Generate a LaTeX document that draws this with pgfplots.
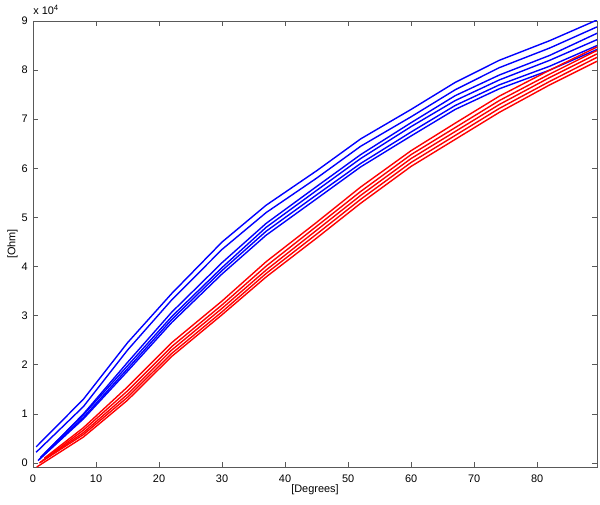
\documentclass[border=0pt]{standalone}
\usepackage{fontspec}
\setmainfont{Liberation Sans}
\usepackage{pgfplots}
\pgfplotsset{compat=1.18}
\definecolor{mblue}{rgb}{0,0,1}
\definecolor{mred}{rgb}{1,0,0}
\definecolor{frame}{gray}{0.35}
\begin{document}
\fontsize{8.2}{9.5}\selectfont
\begin{tikzpicture}
\path[use as bounding box] (0pt,0pt) rectangle (450pt,378pt);
\begin{axis}[
  at={(24.75pt,27.75pt)}, anchor=south west,
  width=423pt, height=334.5pt, scale only axis,
  xmin=0, xmax=89.5, ymin=-0.08, ymax=9,
  xtick={0,10,...,80}, ytick={0,1,...,9},
  tick align=inside, major tick length=4pt,
  axis line style={draw=frame, line width=0.6pt},
  tick style={draw=frame, line width=0.6pt},
  /pgf/number format/assume math mode=true,
  tick label style={font=\fontsize{8.2}{9.5}\selectfont, text=black},
  xticklabel style={yshift=-3pt},
  yticklabel style={xshift=-1pt},
  clip=true,
  every axis plot/.append style={line width=1.05pt, no markers},
]
% blue series (values in units of 10^4 Ohm)
\addplot[mblue] coordinates {(0.5,0.33) (8,1.3) (15,2.45) (22,3.45) (30,4.5) (37,5.25) (45,5.95) (52,6.6) (60,7.2) (67,7.75) (74,8.2) (82,8.6) (89.5,9.02)};
\addplot[mblue] coordinates {(0.5,0.22) (8,1.15) (15,2.3) (22,3.32) (30,4.35) (37,5.1) (45,5.8) (52,6.45) (60,7.05) (67,7.6) (74,8.05) (82,8.45) (89.5,8.88)};
\addplot[mblue] coordinates {(1.9,0.2) (8,1.0) (15,2.05) (22,3.07) (30,4.08) (37,4.88) (45,5.63) (52,6.28) (60,6.93) (67,7.48) (74,7.9) (82,8.3) (89.5,8.75)};
\addplot[mblue] coordinates {(1.2,0.12) (8,0.98) (15,1.98) (22,2.98) (30,3.98) (37,4.8) (45,5.55) (52,6.2) (60,6.85) (67,7.38) (74,7.8) (82,8.2) (89.5,8.62)};
\addplot[mblue] coordinates {(1,0.08) (8,0.93) (15,1.92) (22,2.92) (30,3.92) (37,4.72) (45,5.46) (52,6.1) (60,6.74) (67,7.28) (74,7.7) (82,8.08) (89.5,8.5)};
\addplot[mblue] coordinates {(0.8,0.05) (8,0.9) (15,1.87) (22,2.86) (30,3.85) (37,4.64) (45,5.38) (52,6.03) (60,6.66) (67,7.2) (74,7.62) (82,8.0) (89.5,8.42)};
% red series
\addplot[mred] coordinates {(1.8,0.1) (8,0.72) (15,1.55) (22,2.45) (30,3.3) (37,4.1) (45,4.9) (52,5.62) (60,6.36) (67,6.92) (74,7.47) (82,8.0) (89.5,8.47)};
\addplot[mred] coordinates {(1.5,0.05) (8,0.67) (15,1.47) (22,2.37) (30,3.22) (37,4.01) (45,4.82) (52,5.53) (60,6.28) (67,6.83) (74,7.38) (82,7.92) (89.5,8.4)};
\addplot[mred] coordinates {(1.2,0.02) (8,0.62) (15,1.4) (22,2.3) (30,3.15) (37,3.93) (45,4.74) (52,5.45) (60,6.2) (67,6.75) (74,7.3) (82,7.85) (89.5,8.33)};
\addplot[mred] coordinates {(1,0.0) (8,0.58) (15,1.34) (22,2.23) (30,3.08) (37,3.86) (45,4.66) (52,5.37) (60,6.12) (67,6.67) (74,7.22) (82,7.77) (89.5,8.26)};
\addplot[mred] coordinates {(0.6,-0.08) (8,0.53) (15,1.28) (22,2.17) (30,3.02) (37,3.79) (45,4.58) (52,5.29) (60,6.04) (67,6.59) (74,7.14) (82,7.7) (89.5,8.18)};
\end{axis}
\node[anchor=base west, inner sep=0pt] at (24.75pt,367pt) {x 10\raisebox{0.75ex}{\fontsize{5.8}{6}\selectfont 4}};
\node[inner sep=0pt] at (236.25pt,10.5pt) {[Degrees]};
\node[inner sep=0pt, rotate=90] at (9.4pt,195pt) {[Ohm]};
\end{tikzpicture}
\end{document}
